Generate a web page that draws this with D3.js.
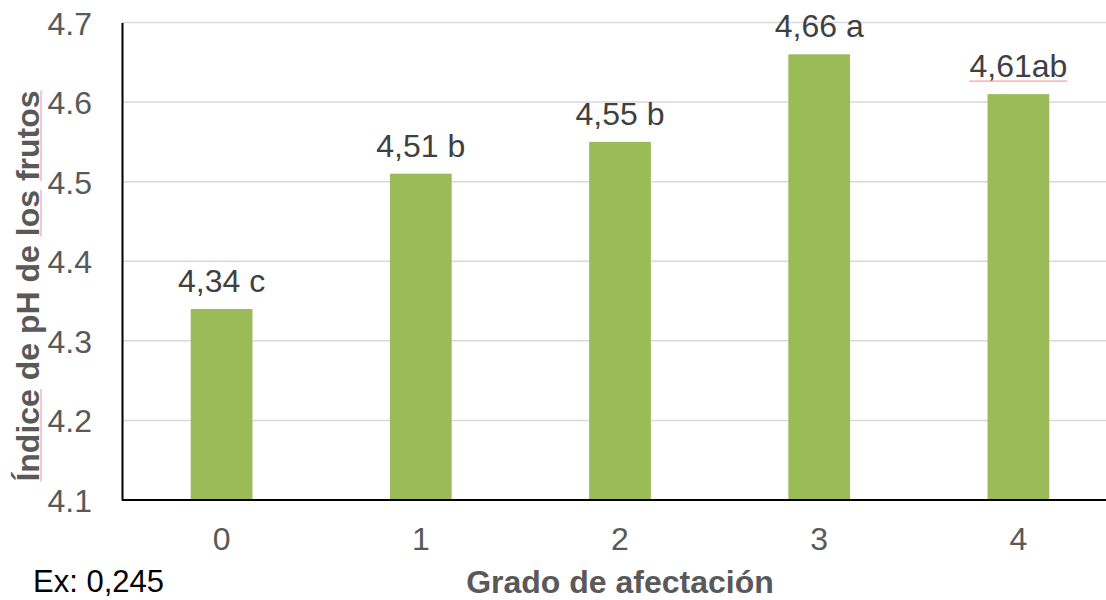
<!DOCTYPE html>
<html>
<head>
<meta charset="utf-8">
<script src="https://cdn.jsdelivr.net/npm/d3@7"></script>
<style>
  body { margin: 0; background: #fff; }
  text { font-family: "Liberation Sans", Arial, sans-serif; }
</style>
</head>
<body>
<script>
var categories = ["0", "1", "2", "3", "4"];
var values = [4.34, 4.51, 4.55, 4.66, 4.61];
var labels = ["4,34 c", "4,51 b", "4,55 b", "4,66 a", "4,61ab"];
var yTicks = [4.1, 4.2, 4.3, 4.4, 4.5, 4.6, 4.7];

var width = 1106, height = 600;

var svg = d3.select("body").append("svg")
        .attr("width", width)
        .attr("height", height);

// plot area runs past the right edge, like the original
var x = d3.scaleBand()
        .domain(categories)
        .range([122, 122 + 5 * 199.2])
        .paddingInner(0.69)
        .paddingOuter(0.345);

var y = d3.scaleLinear()
        .domain([4.1, 4.7])
        .range([500, 22.5]);

// gridlines
svg.append("g").selectAll("line")
        .data(yTicks.slice(1))
        .enter().append("line")
                .attr("x1", 122)
                .attr("x2", width)
                .attr("y1", function(d){ return y(d); })
                .attr("y2", function(d){ return y(d); })
                .attr("stroke", "#d9d9d9")
                .attr("stroke-width", 1.5);

// bars
svg.selectAll("rect")
        .data(values)
        .enter().append("rect")
                .attr("x", function(d,i){ return x(categories[i]); })
                .attr("width", x.bandwidth())
                .attr("y", function(d){ return y(d); })
                .attr("height", function(d){ return y(4.1) - y(d); })
                .attr("fill", "#9bbb59");

// y axis
var yAxis = svg.append("g")
        .attr("transform", "translate(122,0)")
        .call(d3.axisLeft(y).tickValues(yTicks).tickSize(0).tickPadding(30)
                .tickFormat(d3.format(".1f")));
yAxis.select(".domain").attr("stroke", "#000").attr("stroke-width", 2);
yAxis.selectAll("text")
        .attr("font-size", 32)
        .attr("fill", "#595959")
        .attr("dy", "0.36em");

// x axis
var xAxis = svg.append("g")
        .attr("transform", "translate(0,500)")
        .call(d3.axisBottom(x).tickSize(0).tickPadding(27));
xAxis.select(".domain").attr("d", "M122,0H" + width).attr("stroke", "#000").attr("stroke-width", 2);
xAxis.selectAll("text")
        .attr("font-size", 32)
        .attr("fill", "#595959");

// value labels
var valLabels = svg.append("g").selectAll("text")
        .data(values)
        .enter().append("text")
                .attr("x", function(d,i){ return x(categories[i]) + x.bandwidth() / 2; })
                .attr("y", function(d){ return y(d) - 17; })
                .attr("text-anchor", "middle")
                .attr("font-size", 32)
                .attr("fill", "#404040")
                .text(function(d,i){ return labels[i]; });

// spellcheck squiggle under the last label
valLabels.filter(function(d,i){ return i === 4; }).each(function(d){
        var bb = this.getBBox();
        svg.append("line")
                .attr("x1", bb.x).attr("x2", bb.x + bb.width)
                .attr("y1", y(d) - 13).attr("y2", y(d) - 13)
                .attr("stroke", "#ff9c9c").attr("stroke-width", 1.2);
});

// axis titles
svg.append("text")
        .attr("x", 620)
        .attr("y", 593)
        .attr("text-anchor", "middle")
        .attr("font-size", 32)
        .attr("font-weight", "bold")
        .attr("fill", "#595959")
        .text("Grado de afectación");

var yTitleG = svg.append("g").attr("transform", "translate(39,286) rotate(-90)");
var yTitle = yTitleG.append("text")
        .attr("x", 0)
        .attr("y", 0)
        .attr("text-anchor", "middle")
        .attr("font-size", 32)
        .attr("font-weight", "bold")
        .attr("fill", "#595959")
        .text("Índice de pH de los frutos");

// squiggles under "Índice", "los", "frutos"
var full = yTitle.text();
var node = yTitle.node();
["Índice", "los", "frutos"].forEach(function(w){
        var start = full.indexOf(w);
        var sx = node.getStartPositionOfChar(start).x;
        var len = node.getSubStringLength(start, w.length);
        yTitleG.append("line")
                .attr("x1", sx).attr("x2", sx + len)
                .attr("y1", 2).attr("y2", 2)
                .attr("stroke", "#ff9c9c").attr("stroke-width", 1.2);
});

svg.append("text")
        .attr("x", 33)
        .attr("y", 592)
        .attr("font-size", 31)
        .attr("fill", "#000")
        .text("Ex: 0,245");
</script>
</body>
</html>
